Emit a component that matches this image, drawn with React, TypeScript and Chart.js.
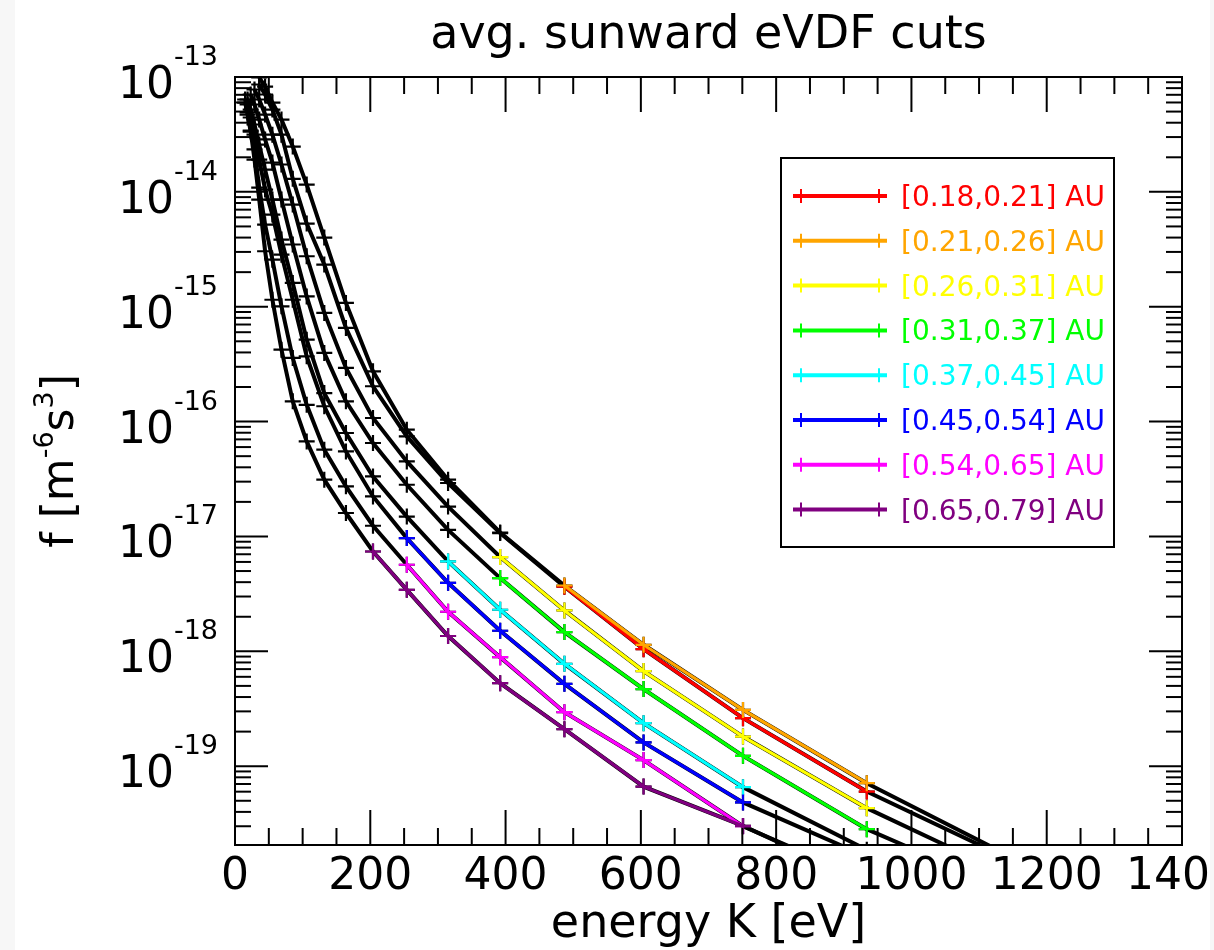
import React, { useEffect, useRef } from "react";
import { Chart, registerables } from "chart.js";

Chart.register(...registerables);

// ---- data ----
const ENERGY_EV = [15.0, 18.6, 23.2, 28.8, 35.8, 44.5, 55.3, 68.7, 85.4, 106, 132, 164, 204, 254, 315, 392, 487, 604, 751, 934, 1161];

const SERIES_LABELS = [
  "[0.18,0.21] AU",
  "[0.21,0.26] AU",
  "[0.26,0.31] AU",
  "[0.31,0.37] AU",
  "[0.37,0.45] AU",
  "[0.45,0.54] AU",
  "[0.54,0.65] AU",
  "[0.65,0.79] AU",
];

const F_018_021 = [null, null, null, null, 8.6e-14, 7.04e-14, 5.21e-14, 3.15e-14, 1.3e-14, 5.3e-15, 2.33e-15, 6.54e-16, 2.03e-16, 7.43e-17, 2.92e-17, 1.07e-17, 3.65e-18, 1.045e-18, 2.62e-19, 6.01e-20, 1.4e-20];
const F_021_026 = [null, null, null, null, 9.9e-14, 8.26e-14, 5.99e-14, 4.26e-14, 2.48e-14, 1.158e-14, 4.0e-15, 1.079e-15, 2.74e-16, 8.5e-17, 3.12e-17, 1.083e-17, 3.74e-18, 1.14e-18, 3.09e-19, 7.11e-20, 1.48e-20];
const F_026_031 = [null, null, null, 7.78e-14, 6.37e-14, 4.71e-14, 3.15e-14, 1.73e-14, 7.75e-15, 2.75e-15, 8.83e-16, 2.93e-16, 1.075e-16, 4.5e-17, 1.82e-17, 6.62e-18, 2.27e-18, 6.73e-19, 1.81e-19, 4.31e-20, 1.01e-20];
const F_031_037 = [null, null, 7.04e-14, 5.76e-14, 4.26e-14, 2.86e-14, 1.8e-14, 8.57e-15, 3.48e-15, 1.23e-15, 3.96e-16, 1.5e-16, 6.51e-17, 2.82e-17, 1.14e-17, 4.34e-18, 1.47e-18, 4.69e-19, 1.23e-19, 2.83e-20, 7.43e-21];
const F_037_045 = [null, 6.37e-14, 5.21e-14, 3.86e-14, 2.58e-14, 1.56e-14, 8.57e-15, 3.84e-15, 1.61e-15, 5.17e-16, 1.77e-16, 7.96e-17, 3.33e-17, 1.49e-17, 6.06e-18, 2.3e-18, 7.78e-19, 2.37e-19, 6.57e-20, 1.87e-20, null];
const F_045_054 = [null, 5.76e-14, 4.44e-14, 3.15e-14, 1.91e-14, 1.047e-14, 6.34e-15, 2.84e-15, 1.15e-15, 3.7e-16, 1.36e-16, 5.5e-17, 2.23e-17, 9.68e-18, 3.95e-18, 1.51e-18, 5.21e-19, 1.61e-19, 4.84e-20, 1.63e-20, null];
const F_054_065 = [6.37e-14, 4.91e-14, 3.42e-14, 2.34e-14, 1.09e-14, 5.19e-15, 2.57e-15, 1.008e-15, 3.58e-16, 1.4e-16, 5.69e-17, 2.73e-17, 1.24e-17, 5.67e-18, 2.21e-18, 8.9e-19, 2.95e-19, 1.13e-19, 3.0e-20, 1.02e-20, null];
const F_065_079 = [5.99e-14, 4.71e-14, 3.35e-14, 1.91e-14, 8.57e-15, 3.04e-15, 1.15e-15, 4.23e-16, 1.5e-16, 6.72e-17, 3.12e-17, 1.6e-17, 7.4e-18, 3.43e-18, 1.36e-18, 5.28e-19, 2.1e-19, 6.64e-20, 3.02e-20, 9.62e-21, null];

const SERIES_VALUES = [F_018_021, F_021_026, F_026_031, F_031_037, F_037_045, F_045_054, F_054_065, F_065_079];

// energy range in which each series is drawn in colour
const COLORED_FROM_EV = [487, 487, 392, 392, 315, 254, 254, 204];
const COLORED_TO_EV = [934, 934, 934, 934, 751, 751, 751, 751];

const X_TICK_LABELS = [0, 200, 400, 600, 800, 1000, 1200, 1400];
const Y_TICK_EXPONENTS = [-13, -14, -15, -16, -17, -18, -19];

const TITLE = "avg. sunward eVDF cuts";
const X_TITLE = "energy K [eV]";

// ---- styles ----
const SERIES_COLORS = ["#ff0000", "#ffa500", "#ffff00", "#00ff00", "#00ffff", "#0000ff", "#ff00ff", "#800080"];
const FONT = '"DejaVu Sans", "Liberation Sans", sans-serif';
const W = 1214;
const H = 950;

const decorPlugin = {
  id: "idlDecor",
  afterDraw(chart: any) {
    const ctx = chart.ctx as CanvasRenderingContext2D;
    const { left, right, top, bottom } = chart.chartArea;
    const xs = chart.scales.x;
    const ys = chart.scales.y;
    ctx.save();
    ctx.strokeStyle = "#000";
    ctx.fillStyle = "#000";
    ctx.lineWidth = 2;
    const seg = (x1: number, y1: number, x2: number, y2: number) => {
      ctx.beginPath();
      ctx.moveTo(x1, y1);
      ctx.lineTo(x2, y2);
      ctx.stroke();
    };
    // frame
    ctx.strokeRect(left, top, right - left, bottom - top);
    // x ticks (inside, bottom + top)
    for (let v = xs.min; v <= xs.max + 1e-9; v += 50) {
      const px = xs.getPixelForValue(v);
      const len = v % 200 === 0 ? 35 : 17;
      seg(px, bottom, px, bottom - len);
      seg(px, top, px, top + len);
    }
    // y ticks (inside, left + right)
    for (let e = -21; e <= -13; e++) {
      for (let m = 1; m <= 9; m++) {
        const v = m * Math.pow(10, e);
        if (v < ys.min * 0.999 || v > ys.max * 1.001) continue;
        const py = ys.getPixelForValue(v);
        const len = m === 1 ? 33 : 16;
        seg(left, py, left + len, py);
        seg(right, py, right - len, py);
      }
    }
    // x tick labels
    ctx.font = `44px ${FONT}`;
    ctx.textAlign = "center";
    ctx.textBaseline = "alphabetic";
    X_TICK_LABELS.forEach((v) => {
      ctx.fillText(String(v), xs.getPixelForValue(v), bottom + 44);
    });
    // y tick labels 10^n
    Y_TICK_EXPONENTS.forEach((ex) => {
      const py = ys.getPixelForValue(Math.pow(10, ex));
      const rightEdge = left - 17;
      ctx.textAlign = "left";
      ctx.font = `27px ${FONT}`;
      const es = String(ex);
      const ew = ctx.measureText(es).width;
      ctx.fillText(es, rightEdge - ew, py - 12);
      ctx.font = `44px ${FONT}`;
      const bw = ctx.measureText("10").width;
      ctx.fillText("10", rightEdge - ew - bw, py + 21);
    });
    // title
    const cx = (left + right) / 2;
    ctx.textAlign = "center";
    ctx.font = `46px ${FONT}`;
    ctx.fillText(TITLE, cx, 48);
    // x title
    ctx.fillText(X_TITLE, cx, 937);
    // y title with superscripts, rotated
    ctx.save();
    ctx.translate(73, (top + bottom) / 2);
    ctx.rotate(-Math.PI / 2);
    const parts: [string, boolean][] = [["f [m", false], ["-6", true], ["s", false], ["3", true], ["]", false]];
    let total = 0;
    parts.forEach(([t, sup]) => {
      ctx.font = `${sup ? 27 : 44}px ${FONT}`;
      total += ctx.measureText(t).width;
    });
    let xx = -total / 2;
    ctx.textAlign = "left";
    parts.forEach(([t, sup]) => {
      ctx.font = `${sup ? 27 : 44}px ${FONT}`;
      ctx.fillText(t, xx, sup ? -20 : 0);
      xx += ctx.measureText(t).width;
    });
    ctx.restore();
    // legend
    const lx0 = 781, ly0 = 158, lx1 = 1114, ly1 = 547;
    ctx.lineWidth = 2;
    ctx.strokeStyle = "#000";
    ctx.strokeRect(lx0, ly0, lx1 - lx0, ly1 - ly0);
    SERIES_LABELS.forEach((lab, i) => {
      const y = 196 + i * 44.8;
      const c = SERIES_COLORS[i];
      ctx.strokeStyle = c;
      ctx.lineWidth = 4;
      seg(793, y, 887, y);
      ctx.lineWidth = 2;
      [801, 879].forEach((mx) => {
        seg(mx, y - 7, mx, y + 7);
        seg(mx - 7, y, mx + 7, y);
      });
      ctx.fillStyle = c;
      ctx.font = `28px ${FONT}`;
      ctx.textAlign = "left";
      ctx.fillText(lab, 901, y + 10);
    });
    // screenshot borders
    ctx.fillStyle = "#f7f7f7";
    ctx.fillRect(0, 0, 15, H);
    ctx.fillRect(1210, 0, W - 1210, H);
    ctx.restore();
  },
};

export default function App() {
  const ref = useRef<HTMLCanvasElement>(null);
  useEffect(() => {
    const canvas = ref.current;
    if (!canvas) return;
    const datasets: any[] = [];
    SERIES_VALUES.forEach((vals, i) => {
      const pts = ENERGY_EV.map((e, k) => ({ x: e, y: vals[k] })).filter((p) => p.y != null);
      datasets.push({
        label: SERIES_LABELS[i] + " all",
        data: pts,
        borderColor: "#000",
        backgroundColor: "#000",
        borderWidth: 4,
        pointStyle: "cross",
        pointRadius: 8,
        pointBorderWidth: 2.2,
        pointBorderColor: "#000",
        pointHoverRadius: 8,
        tension: 0,
        fill: false,
        clip: 0,
        order: 100 + i,
      });
    });
    SERIES_VALUES.forEach((vals, i) => {
      const pts = ENERGY_EV.map((e, k) => ({ x: e, y: vals[k] })).filter(
        (p) => p.y != null && p.x >= COLORED_FROM_EV[i] && p.x <= COLORED_TO_EV[i]
      );
      datasets.push({
        label: SERIES_LABELS[i],
        data: pts,
        borderColor: SERIES_COLORS[i],
        backgroundColor: SERIES_COLORS[i],
        borderWidth: 3.2,
        pointStyle: "cross",
        pointRadius: 8,
        pointBorderWidth: 2.2,
        pointBorderColor: SERIES_COLORS[i],
        pointHoverRadius: 8,
        tension: 0,
        fill: false,
        clip: 0,
        order: 20 - i,
      });
    });
    const chart = new Chart(canvas, {
      type: "line",
      data: { datasets },
      options: {
        animation: false,
        responsive: false,
        devicePixelRatio: 1,
        events: [],
        layout: { padding: { left: 0, right: 32, top: 77, bottom: 0 } },
        plugins: { legend: { display: false }, tooltip: { enabled: false }, title: { display: false } },
        scales: {
          x: {
            type: "linear",
            min: 0,
            max: 1400,
            grid: { display: false },
            border: { display: false },
            ticks: { display: false },
            afterFit: (s: any) => {
              s.height = 105;
              s.paddingLeft = 0;
              s.paddingRight = 0;
            },
          },
          y: {
            type: "logarithmic",
            min: 2.06e-20,
            max: 1e-13,
            grid: { display: false },
            border: { display: false },
            ticks: { display: false },
            afterFit: (s: any) => {
              s.width = 235;
              s.paddingTop = 0;
              s.paddingBottom = 0;
            },
          },
        },
      },
      plugins: [decorPlugin],
    });
    return () => chart.destroy();
  }, []);
  return (
    <div style={{ position: "fixed", left: 0, top: 0, width: W, height: H, background: "#fff" }}>
      <canvas ref={ref} width={W} height={H} style={{ display: "block" }} />
    </div>
  );
}
